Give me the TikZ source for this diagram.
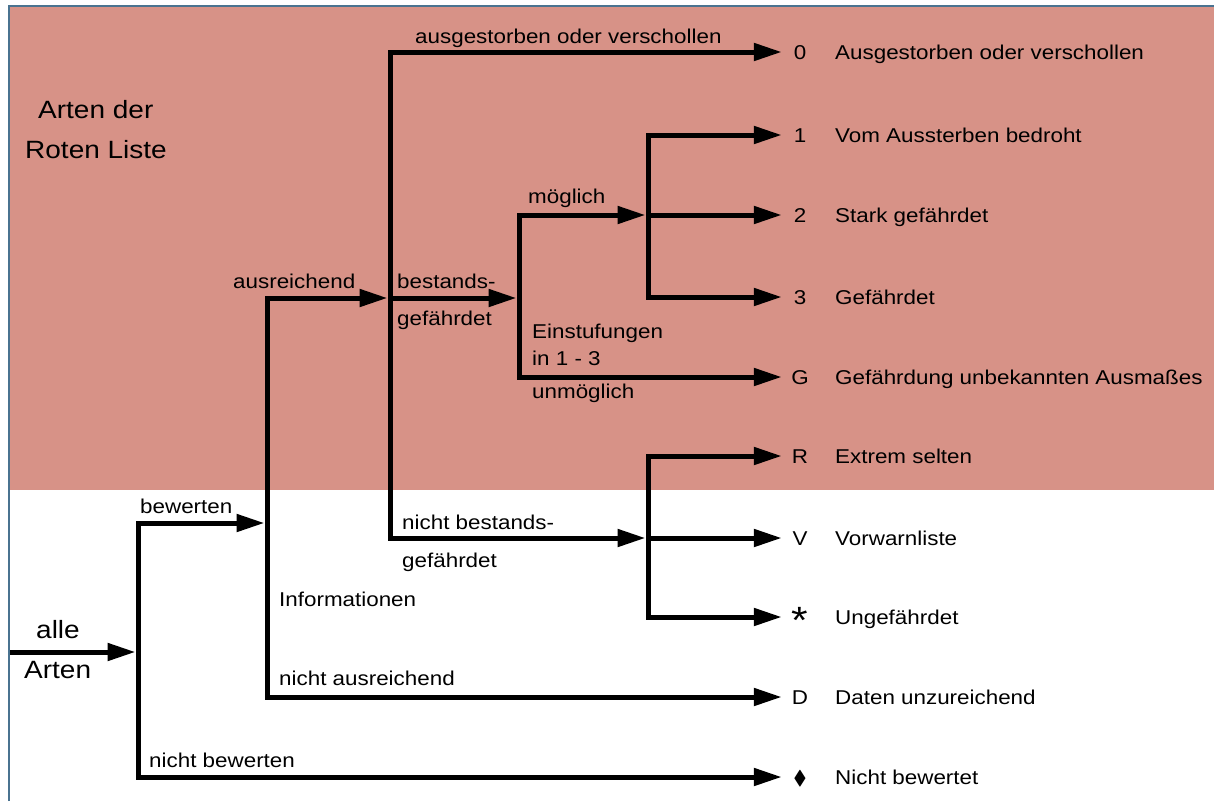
\documentclass[tikz,border=0pt]{standalone}
\usepackage{fontspec}
\usepackage{amssymb}
\setmainfont{Liberation Sans}[FakeStretch=1.12]
\usetikzlibrary{arrows.meta}
\definecolor{rlpink}{RGB}{215,146,135}
\definecolor{rlborder}{RGB}{74,115,144}
\begin{document}
\begin{tikzpicture}[x=1pt,y=-1pt,
  arr/.style={line width=5pt,line join=miter,-{Triangle[length=28pt,width=17pt]}},
  code/.style={minimum width=36pt,inner sep=0pt,text height=14.5pt,text depth=0pt,font=\fontsize{20}{24}\selectfont},
  desc/.style={anchor=base west,inner sep=0pt,font=\fontsize{20}{24}\selectfont},
  lbl/.style={anchor=base west,inner sep=0pt,font=\fontsize{20}{24}\selectfont},
  big/.style={anchor=base west,inner sep=0pt,font=\fontsize{25}{30}\selectfont}]
\useasboundingbox (0,0) rectangle (1214,801);
\fill[white] (0,0) rectangle (1214,801);
\fill[rlpink] (9,6) rectangle (1214,490);
\draw[rlborder,line width=2.2pt] (9,801) -- (9,6) -- (1214,6);

% big labels
\node[big] (t1) at (38,118) {Arten der};
\node[big] (t2) at (25,158) {Roten Liste};
\node[big] (t3) at (36,638) {alle};
\node[big] (t4) at (24,678) {Arten};

% junctions
\coordinate (start) at (10,652);
\coordinate (jA) at (138,652);
\coordinate (jB) at (267,523);
\coordinate (jC) at (390,298);
\coordinate (jD) at (519,298);
\coordinate (jE) at (648,215);
\coordinate (jF) at (648,538);

% code nodes and descriptions
\node[code] (c0) at (800,52) {0};
\node[code] (c1) at (800,135) {1};
\node[code] (c2) at (800,215) {2};
\node[code] (c3) at (800,297) {3};
\node[code] (cG) at (800,377) {G};
\node[code] (cR) at (800,456) {R};
\node[code] (cV) at (800,538) {V};
\node[code] (cS) at (800,617) {\raisebox{-9.5pt}[14.5pt][0pt]{\fontsize{38}{38}\selectfont *}};
\node[code] (cD) at (800,697) {D};
\node[code] (cN) at (800,777) {$\blacklozenge$};

\node[desc] (d0) at (835,59) {Ausgestorben oder verschollen};
\node[desc] (d1) at (835,142) {Vom Aussterben bedroht};
\node[desc] (d2) at (835,222) {Stark gefährdet};
\node[desc] (d3) at (835,304) {Gefährdet};
\node[desc] (dG) at (835,384) {Gefährdung unbekannten Ausmaßes};
\node[desc] (dR) at (835,463) {Extrem selten};
\node[desc] (dV) at (835,545) {Vorwarnliste};
\node[desc] (dS) at (835,624) {Ungefährdet};
\node[desc] (dD) at (835,704) {Daten unzureichend};
\node[desc] (dN) at (835,784) {Nicht bewertet};

% connectors
\draw[arr] (start) -- ([xshift=-2.5pt]jA);
\draw[arr] (jA) |- ([xshift=-2.5pt]jB);
\draw[arr] (jA) |- (cN.west);
\draw[arr] (jB) |- ([xshift=-2.5pt]jC);
\draw[arr] (jB) |- (cD.west);
\draw[arr] (jC) |- (c0.west);
\draw[arr] (jC) -- ([xshift=-2.5pt]jD);
\draw[arr] (jC) |- ([xshift=-2.5pt]jF);
\draw[arr] (jD) |- ([xshift=-2.5pt]jE);
\draw[arr] (jD) |- (cG.west);
\draw[arr] (jE) |- (c1.west);
\draw[arr] (jE) -- (c2.west);
\draw[arr] (jE) |- (c3.west);
\draw[arr] (jF) |- (cR.west);
\draw[arr] (jF) -- (cV.west);
\draw[arr] (jF) |- (cS.west);

% branch labels
\node[lbl] (l1) at (140,513) {bewerten};
\node[lbl] (l2) at (149,767) {nicht bewerten};
\node[lbl] (l3) at (279,606) {Informationen};
\node[lbl] (l4) at (279,685) {nicht ausreichend};
\node[lbl] (l5) at (233,288) {ausreichend};
\node[lbl] (l6) at (415,43) {ausgestorben oder verschollen};
\node[lbl] (l7) at (397,288) {bestands-};
\node[lbl] (l8) at (397,325) {gefährdet};
\node[lbl] (l9) at (528,203) {möglich};
\node[lbl] (l10) at (532,338) {Einstufungen};
\node[lbl] (l11) at (532,365) {in 1 - 3};
\node[lbl] (l12) at (532,398) {unmöglich};
\node[lbl] (l13) at (402,529) {nicht bestands-};
\node[lbl] (l14) at (402,567) {gefährdet};
\end{tikzpicture}
\end{document}
